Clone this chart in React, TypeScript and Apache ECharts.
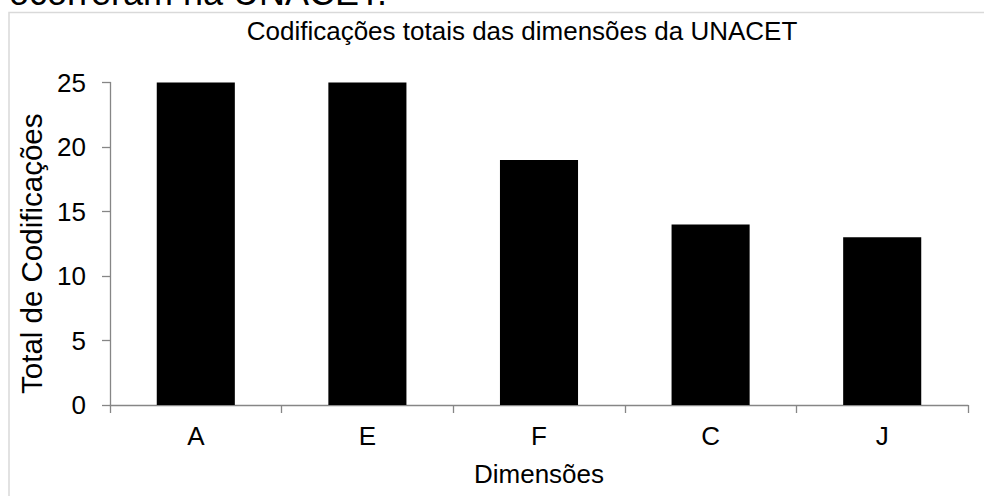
import React, { useEffect, useRef } from "react";
import * as echarts from "echarts";

const categories = ["A", "E", "F", "C", "J"];
const values = [25, 25, 19, 14, 13];
const chartTitle = "Codificações totais das dimensões da UNACET";
const yName = "Total de Codificações";
const xName = "Dimensões";
const aboveText = "ocorreram na UNACET.";

const FONT = "'Liberation Sans', Arial, Helvetica, sans-serif";
const AXIS = "#868686";

export default function App() {
  const ref = useRef<HTMLDivElement>(null);
  useEffect(() => {
    if (!ref.current) return;
    const chart = echarts.init(ref.current, undefined, { renderer: "svg" });
    chart.setOption({
      animation: false,
      backgroundColor: "#ffffff",
      textStyle: { fontFamily: FONT },
      title: {
        text: chartTitle,
        left: 517,
        top: 13,
        textAlign: "center",
        textStyle: { fontFamily: FONT, fontSize: 26, fontWeight: "normal", color: "#000" },
      },
      graphic: [
        {
          type: "rect",
          shape: { x: 9, y: 12.5, width: 990, height: 500 },
          style: { fill: "none", stroke: "#d9d9d9", lineWidth: 1.5 },
          z: -1,
        },
        {
          type: "text",
          x: 9,
          y: 10,
          style: {
            text: aboveText,
            fontFamily: FONT,
            fontSize: 36,
            fill: "#000",
            verticalAlign: "bottom",
          },
        },
      ],
      grid: { left: 110, right: 16, top: 82.5, bottom: 91, containLabel: false },
      xAxis: {
        type: "category",
        data: categories,
        boundaryGap: true,
        name: xName,
        nameLocation: "middle",
        nameGap: 56,
        nameTextStyle: { fontFamily: FONT, fontSize: 26, color: "#000" },
        axisLine: { show: true, lineStyle: { color: AXIS, width: 1.3 } },
        axisTick: { show: true, alignWithLabel: false, length: 8, lineStyle: { color: AXIS, width: 1.3 } },
        axisLabel: { fontFamily: FONT, fontSize: 26, color: "#000", margin: 18 },
        splitLine: { show: false },
      },
      yAxis: {
        type: "value",
        min: 0,
        max: 25,
        interval: 5,
        name: yName,
        nameLocation: "middle",
        nameGap: 60,
        nameTextStyle: { fontFamily: FONT, fontSize: 29.5, color: "#000", padding: [0, 20, 0, 0] },
        axisLine: { show: true, lineStyle: { color: AXIS, width: 1.3 } },
        axisTick: { show: true, length: 8, lineStyle: { color: AXIS, width: 1.3 } },
        axisLabel: { fontFamily: FONT, fontSize: 26, color: "#000", margin: 24 },
        splitLine: { show: false },
      },
      series: [
        {
          type: "bar",
          data: values,
          barCategoryGap: "54.5%",
          itemStyle: { color: "#000000" },
        },
      ],
    });
    return () => chart.dispose();
  }, []);
  return (
    <div
      ref={ref}
      style={{ position: "fixed", left: 0, top: 0, width: 984, height: 496 }}
    />
  );
}
